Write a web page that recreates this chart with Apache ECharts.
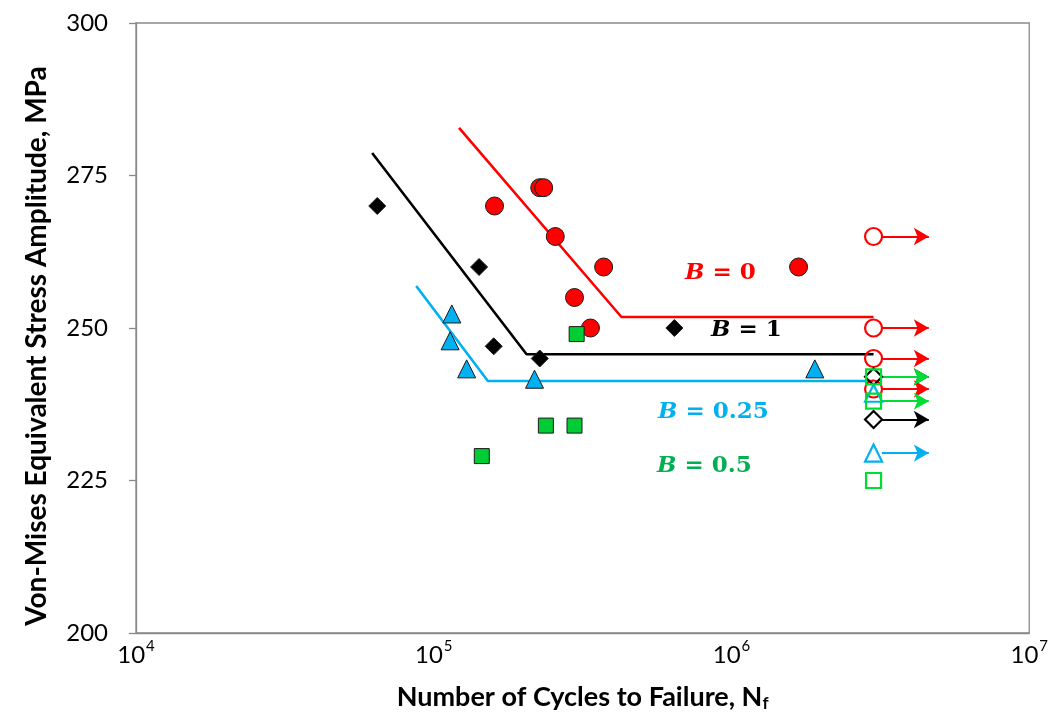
<!DOCTYPE html>
<html>
<head>
<meta charset="utf-8">
<script src="https://cdn.jsdelivr.net/npm/echarts@6/dist/echarts.min.js"></script>
<style>
html,body{margin:0;padding:0;background:#fff;}
#c{width:1051px;height:718px;}
</style>
</head>
<body>
<div id="c"></div>
<script>
// ---- data ----
const xTicks = [1e4, 1e5, 1e6, 1e7];
const yTicks = [200, 225, 250, 275, 300];

// B = 0 (red circles)
const b0FailN = [1.6e5, 2.27e5, 2.34e5, 2.56e5, 3.72e5, 2.97e5, 3.36e5, 1.68e6];
const b0FailS = [270, 273, 273, 265, 260, 255, 250, 260];
const b0RunN = [3e6, 3e6, 3e6, 3e6];
const b0RunS = [265, 250, 245, 240];
const b0RunArrow = [true, true, true, true];
const b0LineN = [1.216e5, 4.27e5, 3e6];
const b0LineS = [282.8, 251.8, 251.8];

// B = 1 (black diamonds)
const b1FailN = [6.46e4, 1.42e5, 1.59e5, 2.27e5, 6.43e5];
const b1FailS = [270, 260, 247, 245, 250];
const b1RunN = [3e6, 3e6];
const b1RunS = [242, 235];
const b1RunArrow = [true, true];
const b1LineN = [6.21e4, 2.05e5, 3e6];
const b1LineS = [278.7, 245.7, 245.7];

// B = 0.25 (blue triangles)
const b025FailN = [1.15e5, 1.135e5, 1.29e5, 2.18e5, 1.905e6];
const b025FailS = [252.3, 247.9, 243.3, 241.6, 243.3];
const b025RunN = [3e6, 3e6];
const b025RunS = [239.3, 229.5];
const b025RunArrow = [false, true];
const b025LineN = [8.73e4, 1.52e5, 3e6];
const b025LineS = [256.9, 241.3, 241.3];

// B = 0.5 (green squares)
const b05FailN = [1.45e5, 2.38e5, 2.97e5, 3.02e5];
const b05FailS = [229, 234, 234, 249];
const b05RunN = [3e6, 3e6, 3e6];
const b05RunS = [242, 238, 225];
const b05RunArrow = [true, true, false];

// run-out arrow extent (cycles)
const arrowStartN = 3.2e6;
const arrowEndN = 4.6e6;

// ---- chart ----
const RED = '#FF0000', BLACK = '#000000', BLUE = '#00B0F0', GREEN = '#00CC33', GREEN_TXT = '#00B050';
const chart = echarts.init(document.getElementById('c'), null, {renderer: 'canvas'});

function zip(a, b) { return a.map((v, i) => [v, b[i]]); }
function arrows(ns, ss, flags) {
  const out = [];
  ns.forEach((n, i) => {
    if (flags[i]) out.push([{coord: [arrowStartN, ss[i]]}, {coord: [arrowEndN, ss[i]]}]);
  });
  return out;
}
function failSeries(name, n, s, symbol, size, color) {
  return {
    name, type: 'scatter', data: zip(n, s), symbol, symbolSize: size,
    itemStyle: {color, borderColor: '#1a1a1a', borderWidth: 1, opacity: 1},
    z: 5
  };
}
function runSeries(name, n, s, flags, symbol, size, color) {
  return {
    name, type: 'scatter', data: zip(n, s), symbol, symbolSize: size,
    itemStyle: {color: 'rgba(255,255,255,0)', borderColor: color, borderWidth: 2.2, opacity: 1},
    z: 5,
    markLine: {
      silent: true, animation: false,
      symbol: ['none', 'arrow'], symbolSize: [13, 15],
      lineStyle: {color, width: 2, type: 'solid'},
      label: {show: false},
      data: arrows(n, s, flags)
    }
  };
}
function lineSeries(name, n, s, color) {
  return {
    name, type: 'line', data: zip(n, s), showSymbol: false, symbol: 'none',
    lineStyle: {color, width: 2.6}, z: 3, silent: true
  };
}

const option = {
  animation: false,
  backgroundColor: '#ffffff',
  grid: {left: 136, right: 19, top: 23, bottom: 85, show: true, borderColor: '#898989', borderWidth: 1.3, backgroundColor: 'transparent'},
  xAxis: {
    type: 'log', logBase: 10, min: xTicks[0], max: xTicks[xTicks.length - 1],
    axisLine: {show: true, lineStyle: {color: '#898989', width: 1.3}},
    axisTick: {show: false}, minorTick: {show: false},
    splitLine: {show: false}, minorSplitLine: {show: false},
    axisLabel: {
      margin: 6,
      formatter: v => {
        const e = Math.round(Math.log10(v));
        return '{b|10}{s|' + e + '}';
      },
      rich: {
        b: {fontFamily: 'Lato', fontSize: 24, color: '#000', verticalAlign: 'bottom'},
        s: {fontFamily: 'Lato', fontSize: 15, color: '#000', verticalAlign: 'top', padding: [0, 0, 13, 1]}
      }
    },
    name: '{a|Number of Cycles to Failure, N}{f|f}',
    nameLocation: 'middle', nameGap: 50,
    nameTextStyle: {
      rich: {
        a: {fontFamily: 'Lato', fontWeight: 'bold', fontSize: 27, color: '#000'},
        f: {fontFamily: 'Lato', fontWeight: 'bold', fontSize: 17, color: '#000', verticalAlign: 'bottom', padding: [12, 0, 0, 0]}
      }
    }
  },
  yAxis: {
    type: 'value', min: yTicks[0], max: yTicks[yTicks.length - 1], interval: 25,
    axisLine: {show: true, lineStyle: {color: '#898989', width: 1.3}},
    axisTick: {show: true, inside: false, length: 7, lineStyle: {color: '#898989', width: 1.3}},
    splitLine: {show: false},
    axisLabel: {margin: 28, fontFamily: 'Lato', fontSize: 24, color: '#000'},
    name: 'Von-Mises Equivalent Stress Amplitude, MPa',
    nameLocation: 'middle', nameGap: 85, nameRotate: 90,
    nameTextStyle: {fontFamily: 'Lato', fontWeight: 'bold', fontSize: 28, color: '#000', padding: [0, 36, 0, 0]}
  },
  series: [
    lineSeries('B0 line', b0LineN, b0LineS, RED),
    lineSeries('B1 line', b1LineN, b1LineS, BLACK),
    lineSeries('B025 line', b025LineN, b025LineS, BLUE),
    failSeries('B0', b0FailN, b0FailS, 'circle', 18, RED),
    failSeries('B1', b1FailN, b1FailS, 'diamond', 17, BLACK),
    failSeries('B025', b025FailN, b025FailS, 'triangle', 18, BLUE),
    failSeries('B05', b05FailN, b05FailS, 'rect', 15, GREEN),
    runSeries('B0 run', b0RunN, b0RunS, b0RunArrow, 'circle', 17, RED),
    runSeries('B1 run', b1RunN, b1RunS, b1RunArrow, 'diamond', 17, BLACK),
    runSeries('B025 run', b025RunN, b025RunS, b025RunArrow, 'triangle', 17, BLUE),
    runSeries('B05 run', b05RunN, b05RunS, b05RunArrow, 'rect', 15, '#00DD33')
  ],
  graphic: []
};
chart.setOption(option);

function bLabel(val, color, x, y) {
  return {
    type: 'text', left: x, top: y - 14, z: 20, silent: true,
    style: {
      rich: {
        i: {fontFamily: 'DejaVu Serif', fontStyle: 'italic', fontWeight: 'bold', fontSize: 23, fill: color},
        n: {fontFamily: 'DejaVu Serif', fontWeight: 'bold', fontSize: 23, fill: color}
      },
      text: '{i|B}{n| = ' + val + '}'
    }
  };
}
chart.setOption({graphic: [
  bLabel('0', RED, 685, 276),
  bLabel('1', BLACK, 711, 333),
  bLabel('0.25', BLUE, 658, 415),
  bLabel('0.5', GREEN_TXT, 657, 469)
]});
</script>
</body>
</html>
